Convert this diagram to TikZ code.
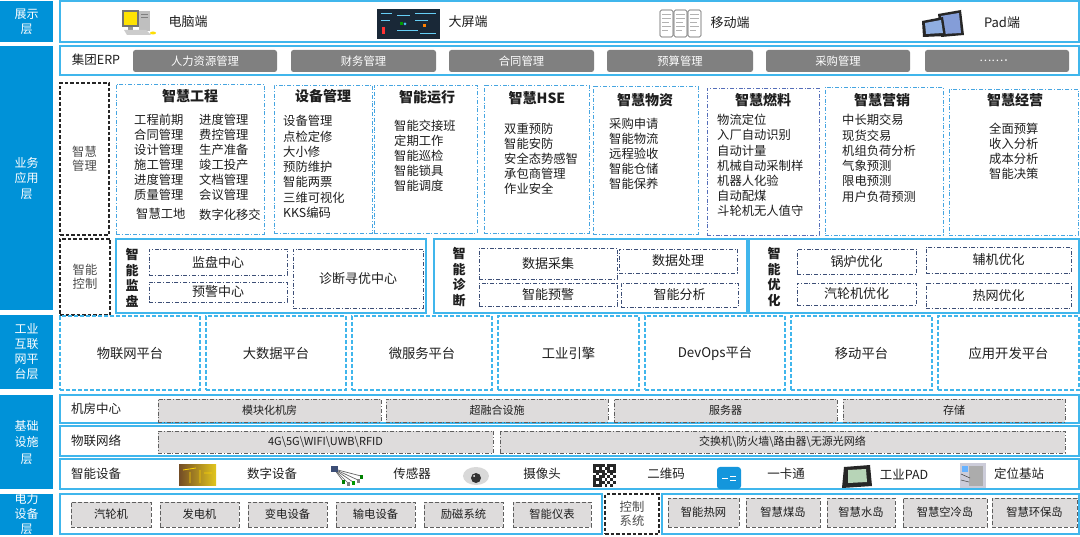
\documentclass[tikz,border=0pt]{standalone}
\usepackage{fontspec}
\setmainfont{Noto Sans CJK SC}
\definecolor{layerblue}{RGB}{0,146,216}
\definecolor{rowblue}{RGB}{64,182,236}
\definecolor{bizblue}{RGB}{70,165,225}
\definecolor{fuelblue}{RGB}{85,110,185}
\definecolor{navy}{RGB}{60,78,118}
\definecolor{erpgray}{RGB}{128,128,128}
\definecolor{infragray}{RGB}{222,220,220}
\definecolor{infraedge}{RGB}{95,95,95}
\definecolor{txt}{RGB}{30,30,30}
\definecolor{scr}{RGB}{25,40,55}
\definecolor{cardblue}{RGB}{20,150,220}
\newcommand\bx[7]{\node[#2,minimum width={(#5-#3)*1pt},minimum height={(#6-#4)*1pt},inner sep=0pt] (#1) at ({(#3+#5)/2},{(#4+#6)/2}) {#7};}
\tikzset{
 every node/.style={text=txt},
 dd/.style={dash pattern=on 4pt off 1.8pt on 1pt off 1.8pt},
 layer/.style={fill=layerblue,text=white,align=center,font=\fontsize{12}{15}\selectfont},
 rowbox/.style={draw=rowblue,line width=1.5pt},
 ctrlbox/.style={draw=rowblue,line width=1.4pt},
 erp/.style={fill=erpgray,rounded corners=2.5pt,text=white,font=\fontsize{11.3}{13}\selectfont},
 biz/.style={draw=bizblue,dd,line width=0.9pt},
 fuel/.style={draw=fuelblue,dd,line width=0.9pt},
 sub/.style={draw=navy,dd,line width=0.8pt,font=\fontsize{13}{15}\selectfont},
 plat/.style={draw=rowblue,dash pattern=on 4pt off 2pt,line width=1.5pt,font=\fontsize{13.3}{15}\selectfont},
 infra/.style={fill=infragray,draw=infraedge,dd,line width=0.8pt,font=\fontsize{11}{13}\selectfont},
 pbox/.style={fill=infragray,draw=infraedge,dash pattern=on 4pt off 2pt,line width=0.9pt,font=\fontsize{11.3}{13}\selectfont},
 blk/.style={draw=black!85,dash pattern=on 3.5pt off 2pt,line width=1.3pt,align=center,font=\fontsize{12.3}{14.5}\selectfont,text=black!70},
 item/.style={anchor=west,inner sep=0pt,text height=0.88em,text depth=0.12em,font=\fontsize{12.3}{15}\selectfont},
 ttl/.style={inner sep=0pt,font=\bfseries\fontsize{14}{16}\selectfont},
 lbl/.style={inner sep=0pt,font=\fontsize{12.5}{15}\selectfont},
 vlbl/.style={inner sep=0pt,align=center,font=\bfseries\fontsize{13}{15.5}\selectfont},
}
\begin{document}
\begin{tikzpicture}[x=1pt,y=-1pt]
\useasboundingbox (0,0) rectangle (1080,537);
\fill[white] (0,0) rectangle (1080,537);
% ---------- layer labels ----------
\bx{L1}{layer}{0}{1}{53}{42}{展示\\层}
\bx{L2}{layer,font=\fontsize{12}{15.5}\selectfont}{0}{46}{53}{310}{业务\\应用\\层}
\bx{L3}{layer}{0}{315}{53}{389}{工业\\互联\\网平\\台层}
\bx{L4}{layer,font=\fontsize{12}{16.5}\selectfont}{0}{395}{53}{489}{基础\\设施\\层}
\begin{scope}
\clip (0,494) rectangle (53,534);
\bx{L5}{layer}{0}{494}{53}{534}{电力\\设备\\层}
\end{scope}
% ---------- display row ----------
\bx{D}{rowbox}{60}{1}{1079}{42}{}
% computer icon
\fill[black!55] (122,10) rectangle (139,27);
\fill[yellow!85!orange] (124,12) rectangle (137,25);
\fill[black!25] (139,11) rectangle (150,31);
\draw[black!50,line width=0.4pt] (141,14)--(148,14) (141,17)--(148,17);
\fill[black!40] (128,27) rectangle (133,30);
\fill[black!20] (124,30) -- (146,30) -- (151,35) -- (127,35) -- cycle;
\fill[yellow!80!orange] (153,33) ellipse [x radius=3pt,y radius=1.5pt];
\node[lbl,font=\fontsize{13}{15}\selectfont] (d1) at (188,22) {电脑端};
% big screen icon
\fill[scr] (377,9) rectangle (440,39);
\draw[cyan!60,line width=0.5pt] (381,13)--(392,13) (381,20)--(390,20) (397,15)--(410,15) (415,13)--(436,13) (415,20)--(428,20) (397,30)--(418,30) (420,33)--(436,33);
\fill[red!80] (382,27) rectangle (385,34);
\fill[green!60!black] (400,22) rectangle (403,25);
\fill[orange] (423,24) rectangle (426,27);
\fill[cyan!70] (405,24) circle [radius=1.5pt];
\node[lbl,font=\fontsize{13}{15}\selectfont] (d2) at (468,22) {大屏端};
% phone icons
\foreach \a in {660,674,688}{
 \draw[black!65,fill=white,rounded corners=1.5pt,line width=0.6pt] (\a,10) rectangle (\a+13,37);
 \draw[black!30,line width=0.4pt] (\a+2,14)--(\a+11,14) (\a+2,18)--(\a+11,18) (\a+2,22)--(\a+9,22) (\a+2,26)--(\a+11,26) (\a+2,30)--(\a+8,30);
}
\node[lbl,font=\fontsize{13}{15}\selectfont] (d3) at (730,23) {移动端};
% pad icons
\fill[black!85] (938,14) -- (961,10) -- (964,35) -- (941,37) -- cycle;
\fill[cyan!40!blue!50] (941,16) -- (959,13) -- (961,33) -- (943,34) -- cycle;
\fill[black!85] (922,21) -- (943,17) -- (946,36) -- (923,37) -- cycle;
\fill[cyan!50!blue!45] (925,23) -- (941,20) -- (943,33) -- (926,34) -- cycle;
\node[lbl,font=\fontsize{13}{15}\selectfont] (d4) at (1002,23) {Pad端};
% ---------- ERP row ----------
\bx{E}{rowbox}{60}{46}{1079}{75}{}
\node[lbl] (erp) at (96,60) {集团ERP};
\bx{e1}{erp}{133}{50}{277}{72}{人力资源管理}
\bx{e2}{erp}{291}{50}{436}{72}{财务管理}
\bx{e3}{erp}{449}{50}{594}{72}{合同管理}
\bx{e4}{erp}{607}{50}{753}{72}{预算管理}
\bx{e5}{erp}{766}{50}{910}{72}{采购管理}
\bx{e6}{erp}{925}{50}{1069}{72}{……．}
% ---------- business application ----------
\bx{zg}{blk}{60}{83}{109}{235}{智慧\\管理}
\bx{b1}{biz}{116}{84}{264}{234}{}
\bx{b2}{biz}{274}{85}{372}{233}{}
\bx{b3}{biz}{374}{85}{477}{233}{}
\bx{b4}{biz}{484}{85}{589}{233}{}
\bx{b5}{biz}{593}{86}{698}{234}{}
\bx{b6}{fuel}{707}{88}{819}{235}{}
\bx{b7}{biz}{825}{87}{943}{235}{}
\bx{b8}{biz}{949}{89}{1078}{235}{}
\node[ttl] (t1) at (190,96) {智慧工程};
\node[ttl] (t2) at (323,96) {设备管理};
\node[ttl] (t3) at (427,97) {智能运行};
\node[ttl] (t4) at (537,98) {智慧HSE};
\node[ttl] (t5) at (645,100) {智慧物资};
\node[ttl] (t6) at (763,100) {智慧燃料};
\node[ttl] (t7) at (882,100) {智慧营销};
\node[ttl] (t8) at (1015,100) {智慧经营};
\foreach \t/\y [count=\i] in {工程前期/121,合同管理/136,设计管理/151,施工管理/166,进度管理/181,质量管理/196}
 \node[item] (ga\i) at (134,\y) {\t};
\node[item] (ga7) at (136,215) {智慧工地};
\foreach \t/\y [count=\i] in {进度管理/121,费控管理/136,生产准备/151,竣工投产/166,文档管理/181,会议管理/196,数字化移交/216}
 \node[item] (gb\i) at (199,\y) {\t};
\foreach \t [count=\i] in {设备管理,点检定修,大小修,预防维护,智能两票,三维可视化,KKS编码}
 \node[item] (sb\i) at (283,{122+15.3*(\i-1)}) {\t};
\foreach \t [count=\i] in {智能交接班,定期工作,智能巡检,智能锁具,智能调度}
 \node[item] (yx\i) at (394,{127+15*(\i-1)}) {\t};
\foreach \t [count=\i] in {双重预防,智能安防,安全态势感智,承包商管理,作业安全}
 \node[item] (hse\i) at (504,{130+15*(\i-1)}) {\t};
\foreach \t [count=\i] in {采购申请,智能物流,远程验收,智能仓储,智能保养}
 \node[item] (wz\i) at (609,{125+15*(\i-1)}) {\t};
\foreach \t [count=\i] in {物流定位,入厂自动识别,自动计量,机械自动采制样,机器人化验,自动配煤,斗轮机无人值守}
 \node[item] (rl\i) at (717,{121+15.2*(\i-1)}) {\t};
\foreach \t [count=\i] in {中长期交易,现货交易,机组负荷分析,气象预测,限电预测,用户负荷预测}
 \node[item] (yxs\i) at (842,{121+15.3*(\i-1)}) {\t};
\foreach \t [count=\i] in {全面预算,收入分析,成本分析,智能决策}
 \node[item] (jy\i) at (989,{130+15*(\i-1)}) {\t};
% ---------- intelligent control ----------
\bx{zk}{blk}{60}{239}{110}{315}{智能\\控制}
\bx{c1}{ctrlbox}{116}{239}{426}{313}{}
\bx{c2}{ctrlbox}{434}{239}{747}{313}{}
\bx{c3}{ctrlbox}{749}{239}{1079}{313}{}
\node[vlbl] (v1) at (132,278) {智\\能\\监\\盘};
\node[vlbl] (v2) at (459,277) {智\\能\\诊\\断};
\node[vlbl] (v3) at (774,277) {智\\能\\优\\化};
\bx{s1}{sub}{149}{249}{287}{275}{监盘中心}
\bx{s2}{sub}{149}{282}{287}{302}{预警中心}
\bx{s3}{sub}{293}{249}{423}{308}{诊断寻优中心}
\bx{s4}{sub}{479}{248}{617}{279}{数据采集}
\bx{s5}{sub}{479}{283}{617}{306}{智能预警}
\bx{s6}{sub}{619}{249}{737}{273}{数据处理}
\bx{s7}{sub}{621}{283}{738}{307}{智能分析}
\bx{s8}{sub}{797}{249}{916}{274}{锅炉优化}
\bx{s9}{sub}{797}{283}{916}{305}{汽轮机优化}
\bx{s10}{sub}{926}{247}{1071}{273}{辅机优化}
\bx{s11}{sub}{926}{283}{1071}{308}{热网优化}
% ---------- platform layer ----------
\bx{p1}{plat}{60}{316}{200}{390}{物联网平台}
\bx{p2}{plat}{206}{316}{346}{390}{大数据平台}
\bx{p3}{plat}{352}{316}{492}{390}{微服务平台}
\bx{p4}{plat}{498}{316}{639}{390}{工业引擎}
\bx{p5}{plat}{645}{316}{785}{390}{DevOps平台}
\bx{p6}{plat}{791}{316}{932}{390}{移动平台}
\bx{p7}{plat}{938}{316}{1079}{390}{应用开发平台}
% ---------- infrastructure ----------
\bx{r1}{rowbox}{60}{395}{1079}{423}{}
\bx{r2}{rowbox}{60}{426}{1079}{456}{}
\bx{r3}{rowbox}{60}{459}{1079}{489}{}
\node[lbl] (r1l) at (96,409) {机房中心};
\node[lbl] (r2l) at (96,441) {物联网络};
\node[lbl] (r3l) at (96,474) {智能设备};
\bx{i1}{infra}{158}{399}{381}{422}{模块化机房}
\bx{i2}{infra}{386}{399}{608}{422}{超融合设施}
\bx{i3}{infra}{614}{399}{837}{422}{服务器}
\bx{i4}{infra}{843}{399}{1065}{422}{存储}
\bx{i5}{infra}{158}{431}{493}{453}{4G\textbackslash 5G\textbackslash WIFI\textbackslash UWB\textbackslash RFID}
\bx{i6}{infra}{500}{431}{1065}{453}{交换机\textbackslash 防火墙\textbackslash 路由器\textbackslash 无源光网络}
% device icons
\shade[left color=brown!60!black,right color=yellow!55!brown] (179,465) rectangle (216,485);
\draw[yellow!70!orange,line width=0.8pt] (183,470)--(196,468) (190,472)--(190,483) (200,470)--(200,483) (204,473)--(212,473);
\node[lbl] (dv1) at (272,474) {数字设备};
\foreach \ex/\ey/\cc in {343/484/green!50!black,348/486/gray,353/485/green!60!black,358/483/gray,361/479/green!50!black}{
 \draw[black!60,line width=0.7pt] (334,469) -- (\ex,\ey-3);
 \fill[\cc] (\ex-1.5,\ey-4) rectangle (\ex+1.5,\ey);
}
\fill[navy] (331,466) rectangle (338,472);
\node[lbl] (dv2) at (412,474) {传感器};
\fill[black!15] (476,476) ellipse [x radius=13pt,y radius=9pt];
\fill[black!80] (476,478) circle [radius=5pt];
\fill[white] (474,476) circle [radius=1pt];
\node[lbl] (dv3) at (542,474) {摄像头};
\fill[white] (593,464) rectangle (616,487);
\foreach \c/\r in {0/0,1/0,2/0,0/1,2/1,0/2,1/2,2/2,5/0,6/0,7/0,5/1,7/1,5/2,6/2,7/2,0/5,1/5,2/5,0/6,2/6,0/7,1/7,2/7,3/0,4/1,3/2,4/3,3/3,6/3,1/3,0/4,2/4,5/4,7/4,4/5,6/5,3/6,5/6,7/6,4/7,6/7,3/4}
 \fill[black!85] ({593+\c*2.875},{464+\r*2.875}) rectangle +(2.875,2.875);
\node[lbl] (dv4) at (666,474) {二维码};
\fill[cardblue,rounded corners=3pt] (717,467) rectangle (741,489);
\draw[white,line width=0.6pt] (722,478)--(728,478) (730,476)--(736,476) (730,480)--(736,480);
\node[lbl] (dv5) at (786,474) {一卡通};
\fill[black!85] (844,467) -- (870,465) -- (872,486) -- (842,488) -- cycle;
\fill[green!25!gray!45] (848,470) -- (866,469) -- (867,482) -- (848,483) -- cycle;
\node[lbl] (dv6) at (904,474) {工业PAD};
\fill[blue!15!gray!35] (960,463) rectangle (986,488);
\fill[gray!65] (969,466) rectangle (983,486);
\fill[blue!50!cyan!60] (962,466) rectangle (968,472);
\draw[black!70,line width=0.6pt] (961,474)--(970,478) (961,480)--(969,482);
\node[lbl] (dv7) at (1019,474) {定位基站};
% ---------- power equipment ----------
\bx{q1}{rowbox}{60}{494}{602}{534}{}
\bx{q2}{rowbox}{662}{494}{1079}{534}{}
\bx{k}{blk}{605}{494}{659}{534}{控制\\系统}
\bx{g1}{pbox}{71}{502}{151}{527}{汽轮机}
\bx{g2}{pbox}{160}{502}{239}{527}{发电机}
\bx{g3}{pbox}{248}{502}{327}{527}{变电设备}
\bx{g4}{pbox}{336}{502}{415}{527}{输电设备}
\bx{g5}{pbox}{424}{502}{503}{527}{励磁系统}
\bx{g6}{pbox}{513}{502}{591}{527}{智能仪表}
\bx{h1}{pbox}{668}{498}{739}{527}{智能热网}
\bx{h2}{pbox}{746}{498}{820}{527}{智慧煤岛}
\bx{h3}{pbox}{827}{498}{895}{527}{智慧水岛}
\bx{h4}{pbox}{903}{498}{987}{527}{智慧空冷岛}
\bx{h5}{pbox}{992}{498}{1077}{527}{智慧环保岛}
\end{tikzpicture}
\end{document}
